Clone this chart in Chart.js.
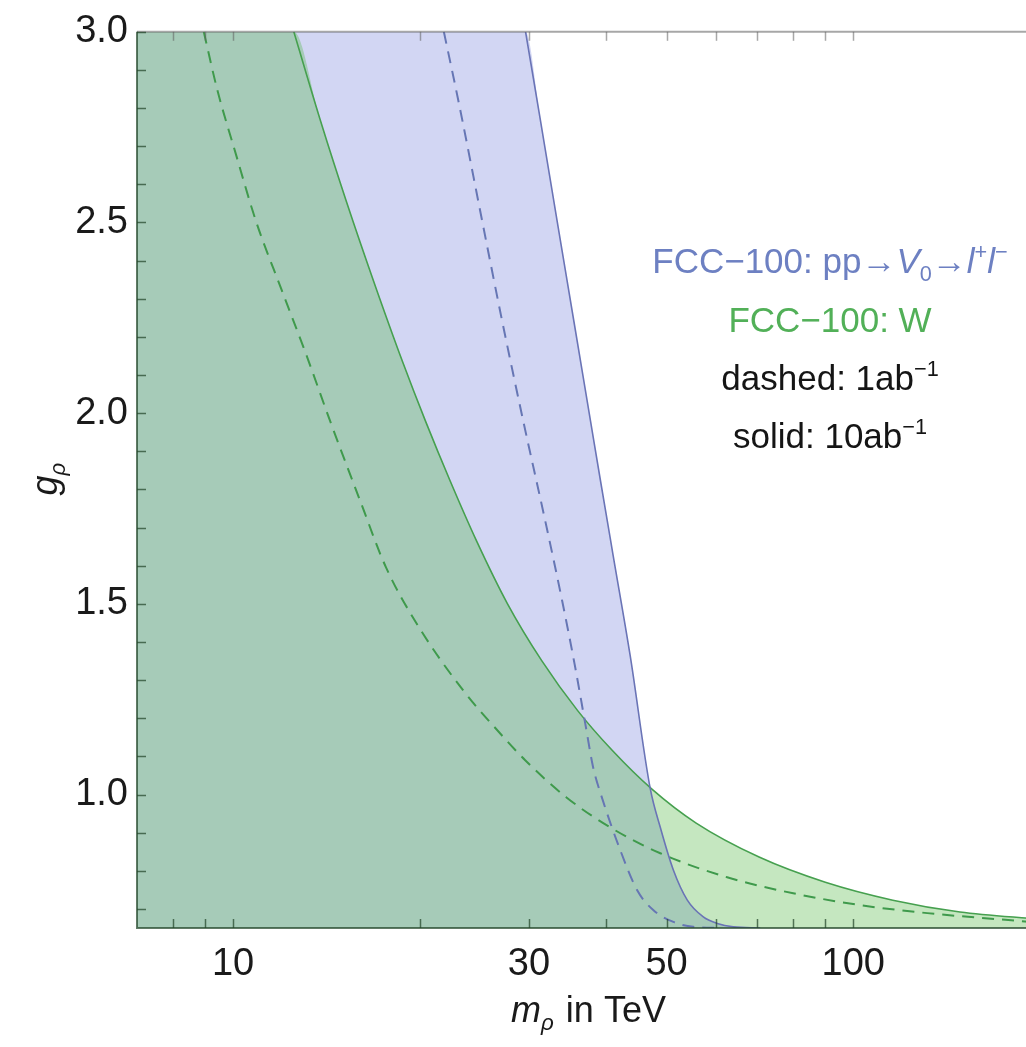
<!DOCTYPE html>
<html><head><meta charset="utf-8">
<script src="https://cdn.jsdelivr.net/npm/chart.js@4.4.1/dist/chart.umd.min.js"></script>
<style>
html,body{margin:0;padding:0;background:#fff;overflow:hidden;width:1026px;height:1047px}
#wrap{position:relative;width:1026px;height:1047px;overflow:hidden}
canvas{display:block}
</style></head><body><div id="wrap"><canvas id="c" width="1060" height="1047"></canvas></div>
<script>
// axis ranges
const X_MIN = 7, X_MAX = 200, Y_MIN = 0.65, Y_MAX = 3.0;
// tick values
const xTickLabels = [10, 30, 50, 100];
const xTickMarks = [8, 9, 10, 20, 30, 40, 50, 60, 70, 80, 90, 100];
const yTickLabels = [1.0, 1.5, 2.0, 2.5, 3.0];
const yTickMarks = [0.7, 0.8, 0.9, 1.0, 1.1, 1.2, 1.3, 1.4, 1.5, 1.6, 1.7, 1.8, 1.9, 2.0,
                    2.1, 2.2, 2.3, 2.4, 2.5, 2.6, 2.7, 2.8, 2.9, 3.0];

// FCC-100, W channel, 10 ab^-1 (solid green)
const wSolidMass = [12.53, 13.85, 15.23, 16.85, 18.75, 20.43, 22.39, 24.69, 27.70, 31.45, 35.94, 40.85, 47.35, 55.80, 70.48, 90.13, 115.8, 148.6, 200];
const wSolidG    = [3.0, 2.764, 2.555, 2.346, 2.136, 1.979, 1.822, 1.665, 1.500, 1.351, 1.220, 1.116, 1.014, 0.925, 0.836, 0.770, 0.723, 0.692, 0.673];
// FCC-100, W channel, 1 ab^-1 (dashed green)
const wDashedMass = [8.97, 9.42, 10.11, 10.89, 11.95, 13.11, 14.34, 16.03, 17.65, 19.95, 23.5, 26.96, 29.58, 34.44, 40.55, 48.84, 62.6, 80.0, 102.6, 131.6, 200];
const wDashedG    = [3.0, 2.851, 2.678, 2.503, 2.327, 2.155, 1.979, 1.770, 1.595, 1.438, 1.273, 1.160, 1.090, 0.993, 0.914, 0.846, 0.783, 0.741, 0.710, 0.689, 0.664];
// FCC-100, pp -> V0 -> l+l-, 10 ab^-1 (solid blue)
const vSolidMass = [29.62, 31.33, 33.31, 35.44, 37.70, 39.07, 41.01, 43.68, 47.05, 48.84, 51.27, 54.0, 57.3, 60.35, 64.05, 70.79];
const vSolidG    = [3.0, 2.764, 2.503, 2.241, 1.979, 1.828, 1.626, 1.364, 1.016, 0.914, 0.802, 0.723, 0.679, 0.662, 0.653, 0.65];
// FCC-100, pp -> V0 -> l+l-, 1 ab^-1 (dashed blue)
const vDashedMass = [21.87, 23.15, 25.22, 27.16, 29.37, 31.86, 33.93, 35.62, 36.97, 38.07, 39.22, 42.1, 44.83, 47.58, 51.27, 55.21, 61.04];
const vDashedG    = [3.0, 2.809, 2.503, 2.241, 1.979, 1.718, 1.508, 1.333, 1.186, 1.071, 0.998, 0.854, 0.749, 0.697, 0.666, 0.653, 0.65];

const pts = (xs, ys) => xs.map((x, i) => ({x: x, y: ys[i]}));
// excluded regions: filled below the solid curves, closed along the top edge
const region = (xs, ys) => [{x: X_MIN, y: Y_MAX}].concat(pts(xs, ys));

const FONT = '"Liberation Sans", Arial, Helvetica, sans-serif';

const lineBase = {pointRadius: 0, cubicInterpolationMode: 'monotone', fill: false};
const datasets = [
  Object.assign({}, lineBase, {label: 'W 10ab fill', data: region(wSolidMass, wSolidG), borderWidth: 0, borderColor: 'rgba(0,0,0,0)',
    backgroundColor: 'rgba(62,176,48,0.30)', fill: 'start', order: 1}),
  Object.assign({}, lineBase, {label: 'V0 10ab fill', data: region(vSolidMass, vSolidG), borderWidth: 0, borderColor: 'rgba(0,0,0,0)',
    backgroundColor: 'rgba(105,118,215,0.30)', fill: 'start', order: 2}),
  Object.assign({}, lineBase, {label: 'V0 1ab', data: pts(vDashedMass, vDashedG), borderColor: '#6676b4', borderWidth: 2, borderDash: [12, 8], order: 0}),
  Object.assign({}, lineBase, {label: 'V0 10ab', data: pts(vSolidMass, vSolidG), borderColor: '#6a74b6', borderWidth: 1.6, order: 0}),
  Object.assign({}, lineBase, {label: 'W 1ab', data: pts(wDashedMass, wDashedG), borderColor: '#3f9a4c', borderWidth: 2, borderDash: [12, 8], order: 0}),
  Object.assign({}, lineBase, {label: 'W 10ab', data: pts(wSolidMass, wSolidG), borderColor: '#46a04f', borderWidth: 1.6, order: 0})
];

function drawRich(ctx, parts, x, y, size, color, align) {
  const widths = parts.map(p => {
    const s = p.sub || p.sup ? size * 0.62 : size;
    ctx.font = (p.i ? 'italic ' : '') + s + 'px ' + FONT;
    return ctx.measureText(p.t).width + (p.gap || 0);
  });
  const total = widths.reduce((a, b) => a + b, 0);
  let cx = align === 'center' ? x - total / 2 : x;
  ctx.fillStyle = color;
  ctx.textBaseline = 'alphabetic';
  ctx.textAlign = 'left';
  parts.forEach((p, k) => {
    const s = p.sub || p.sup ? size * 0.62 : size;
    ctx.font = (p.i ? 'italic ' : '') + s + 'px ' + FONT;
    const dy = p.sub ? size * 0.22 : (p.sup ? -size * 0.40 : 0);
    ctx.fillText(p.t, cx, y + dy);
    cx += widths[k];
  });
}

const framePlugin = {
  id: 'frame',
  afterDatasetsDraw(chart) {
    const {ctx, chartArea: a, scales: {x, y}} = chart;
    ctx.save();
    const tl = 9;
    // top frame
    ctx.strokeStyle = 'rgba(95,95,95,0.55)';
    ctx.lineWidth = 2;
    ctx.beginPath(); ctx.moveTo(a.left, a.top); ctx.lineTo(a.right, a.top); ctx.stroke();
    ctx.lineWidth = 1.5;
    xTickMarks.forEach(v => {
      const px = Math.round(x.getPixelForValue(v)) + 0.5;
      ctx.beginPath(); ctx.moveTo(px, a.top); ctx.lineTo(px, a.top + tl); ctx.stroke();
    });
    // left and bottom frame
    ctx.strokeStyle = 'rgba(35,70,42,0.72)';
    ctx.lineWidth = 2;
    ctx.beginPath(); ctx.moveTo(a.left, a.top); ctx.lineTo(a.left, a.bottom); ctx.lineTo(a.right, a.bottom); ctx.stroke();
    ctx.lineWidth = 1.5;
    xTickMarks.forEach(v => {
      const px = Math.round(x.getPixelForValue(v)) + 0.5;
      ctx.beginPath(); ctx.moveTo(px, a.bottom); ctx.lineTo(px, a.bottom - tl); ctx.stroke();
    });
    yTickMarks.forEach(v => {
      const py = Math.round(y.getPixelForValue(v)) + 0.5;
      ctx.beginPath(); ctx.moveTo(a.left, py); ctx.lineTo(a.left + tl, py); ctx.stroke();
    });
    ctx.restore();
  },
  afterDraw(chart) {
    const {ctx, chartArea: a} = chart;
    ctx.save();
    // x axis title
    drawRich(ctx, [{t: 'm', i: true}, {t: 'ρ', i: true, sub: true, gap: 2}, {t: ' in TeV'}],
      (a.left + a.right) / 2, 1022, 36, '#1a1a1a', 'center');
    // y axis title (rotated)
    ctx.translate(57, 479);
    ctx.rotate(-Math.PI / 2);
    drawRich(ctx, [{t: 'g', i: true}, {t: 'ρ', i: true, sub: true}], 0, 0, 36, '#1a1a1a', 'center');
    ctx.restore();
    ctx.save();
    // in-plot labels
    const cx = 830;
    drawRich(ctx, [{t: 'FCC\u2212100: pp\u2192'}, {t: 'V', i: true}, {t: '0', sub: true}, {t: '\u2192'},
      {t: 'l', i: true}, {t: '+', sup: true}, {t: 'l', i: true}, {t: '\u2212', sup: true}], cx, 273, 35, '#6d80c2', 'center');
    drawRich(ctx, [{t: 'FCC\u2212100: W'}], cx, 332, 35, '#52b058', 'center');
    drawRich(ctx, [{t: 'dashed: 1ab'}, {t: '\u22121', sup: true}], cx, 390, 35, '#151515', 'center');
    drawRich(ctx, [{t: 'solid: 10ab'}, {t: '\u22121', sup: true}], cx, 448, 35, '#151515', 'center');
    ctx.restore();
  }
};

new Chart(document.getElementById('c'), {
  type: 'line',
  data: {datasets: datasets},
  options: {
    responsive: false,
    animation: false,
    devicePixelRatio: 1,
    layout: {padding: {top: 30, right: 20, bottom: 0, left: 0}},
    plugins: {legend: {display: false}, tooltip: {enabled: false}, filler: {drawTime: 'beforeDatasetsDraw'}},
    scales: {
      x: {
        type: 'logarithmic', min: X_MIN, max: X_MAX, bounds: 'data',
        grid: {display: false, drawTicks: false, tickLength: 0},
        border: {display: false},
        afterBuildTicks: s => { s.ticks = xTickLabels.map(v => ({value: v})); },
        afterFit: s => { s.height = 119; },
        ticks: {autoSkip: false, maxRotation: 0, minRotation: 0, padding: 14, color: '#1a1a1a',
          font: {family: FONT, size: 38}, callback: v => String(v)}
      },
      y: {
        type: 'linear', min: Y_MIN, max: Y_MAX,
        grid: {display: false, drawTicks: false, tickLength: 0},
        border: {display: false},
        afterBuildTicks: s => { s.ticks = yTickLabels.map(v => ({value: v})); },
        afterFit: s => { s.width = 137; },
        ticks: {padding: 9, color: '#1a1a1a', font: {family: FONT, size: 38}, callback: v => Number(v).toFixed(1)}
      }
    }
  },
  plugins: [framePlugin]
});
</script></body></html>
